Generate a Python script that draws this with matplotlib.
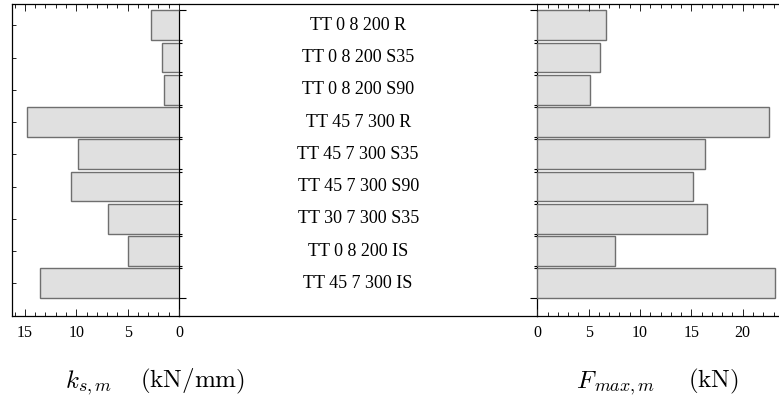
import matplotlib
matplotlib.use("Agg")
import matplotlib.pyplot as plt
from matplotlib.ticker import MultipleLocator, FixedLocator
import numpy as np

# Test series and measured quantities (top to bottom)
specimens = ["TT 0 8 200 R", "TT 0 8 200 S35", "TT 0 8 200 S90", "TT 45 7 300 R",
             "TT 45 7 300 S35", "TT 45 7 300 S90", "TT 30 7 300 S35", "TT 0 8 200 IS",
             "TT 45 7 300 IS"]
stiffness = [2.76, 1.63, 1.43, 14.77, 9.83, 10.52, 6.91, 4.97, 13.5]      # k_s,m (kN/mm)
max_force = [6.66, 6.13, 5.10, 22.59, 16.33, 15.16, 16.49, 7.54, 23.14]   # F_max,m (kN)
k_ticks = [0, 5, 10, 15]
f_ticks = [0, 5, 10, 15, 20]

plt.rcParams["font.family"] = ["Liberation Serif", "DejaVu Serif"]
plt.rcParams["mathtext.fontset"] = "cm"

W, H, DPI = 779, 399, 100
fig = plt.figure(figsize=(W / DPI, H / DPI), dpi=DPI)

FRAME_TOP, FRAME_BOT = 4.3, 315.5
PX_PER_UNIT = 10.27
X_ZERO_L, X_ZERO_R = 179.0, 537.3
X_LEFT, X_RIGHT = 12.0, 781.0


def box(x0, x1):
    return [x0 / W, 1 - FRAME_BOT / H, (x1 - x0) / W, (FRAME_BOT - FRAME_TOP) / H]


pos = np.arange(len(specimens))
bar_h = 0.92
ylim = (len(specimens), -0.652)
fill, edge = "#e0e0e0", "#6f6f6f"
tick_col = "#222222"

edges_top = pos - bar_h / 2
edges_bot = pos + bar_h / 2
outer_edges = [edges_top[0], edges_bot[-1]]
inner_edges = list(edges_bot[:-1]) + list(edges_top[1:])


def style_x(ax, major):
    ax.xaxis.set_major_locator(FixedLocator(major))
    ax.xaxis.set_minor_locator(MultipleLocator(1))
    ax.tick_params(axis="x", which="both", direction="in", top=True, bottom=True,
                   color=tick_col, width=0.7)
    ax.tick_params(axis="x", which="major", length=5.0, labelsize=11.5, pad=7)
    ax.tick_params(axis="x", which="minor", length=2.6)
    for s in ("top", "bottom"):
        ax.spines[s].set_linewidth(0.9)


def zero_line(ax, side):
    sec = ax.secondary_yaxis(side)
    sec.set_yticks(outer_edges)
    sec.set_yticks(inner_edges, minor=True)
    sec.tick_params(which="both", direction="out", labelleft=False, labelright=False,
                    width=0.8, color="black")
    sec.tick_params(which="major", length=4.8)
    sec.tick_params(which="minor", length=2.2)
    sec.spines[side].set_bounds(ylim[0], outer_edges[0])
    sec.spines[side].set_linewidth(0.9)
    return sec


# Left panel: stiffness, growing to the left
axL = fig.add_axes(box(X_LEFT, X_ZERO_L))
axL.barh(pos, stiffness, height=bar_h, color=fill, edgecolor=edge, linewidth=1.0)
axL.set_xlim((X_ZERO_L - X_LEFT) / PX_PER_UNIT, 0)
axL.set_ylim(*ylim)
axL.spines["right"].set_visible(False)
axL.spines["left"].set_linewidth(0.9)
style_x(axL, k_ticks)
axL.set_yticks(pos)
axL.tick_params(axis="y", direction="in", length=3, width=0.7, color=tick_col,
                labelleft=False)
zero_line(axL, "right")

# Middle panel: specimen names
axM = fig.add_axes(box(X_ZERO_L, X_ZERO_R))
axM.patch.set_visible(False)
axM.set_xlim(0, 1)
axM.set_ylim(*ylim)
axM.spines["left"].set_visible(False)
axM.spines["right"].set_visible(False)
for s in ("top", "bottom"):
    axM.spines[s].set_linewidth(0.9)
axM.set_xticks([])
axM.set_yticks([])
for p, name in zip(pos, specimens):
    axM.text(0.5, p, name, ha="center", va="center", fontsize=13)

# Right panel: maximum force
axR = fig.add_axes(box(X_ZERO_R, X_RIGHT))
axR.patch.set_visible(False)
axR.barh(pos, max_force, height=bar_h, color=fill, edgecolor=edge, linewidth=1.0)
axR.set_xlim(0, (X_RIGHT - X_ZERO_R) / PX_PER_UNIT)
axR.set_ylim(*ylim)
axR.spines["left"].set_visible(False)
style_x(axR, f_ticks)
axR.set_yticks([])
zero_line(axR, "left")


# Quantity labels under each panel: symbol, its subscript, then the unit
BASELINE = 387.5


def put(x_px, y_px, s, size):
    fig.text(x_px / W, 1 - y_px / H, s, ha="left", va="baseline", fontsize=size)


put(65, BASELINE, r"$k$", 18)
put(77.5, BASELINE + 3.5, r"$s,m$", 13)
put(140, BASELINE, r"$(\mathrm{kN/mm})$", 18)

put(576.5, BASELINE, r"$F$", 18)
put(594.5, BASELINE + 3.5, r"$max,m$", 13)
put(688, BASELINE, r"$(\mathrm{kN})$", 18)

fig.savefig("out.png", dpi=DPI)
